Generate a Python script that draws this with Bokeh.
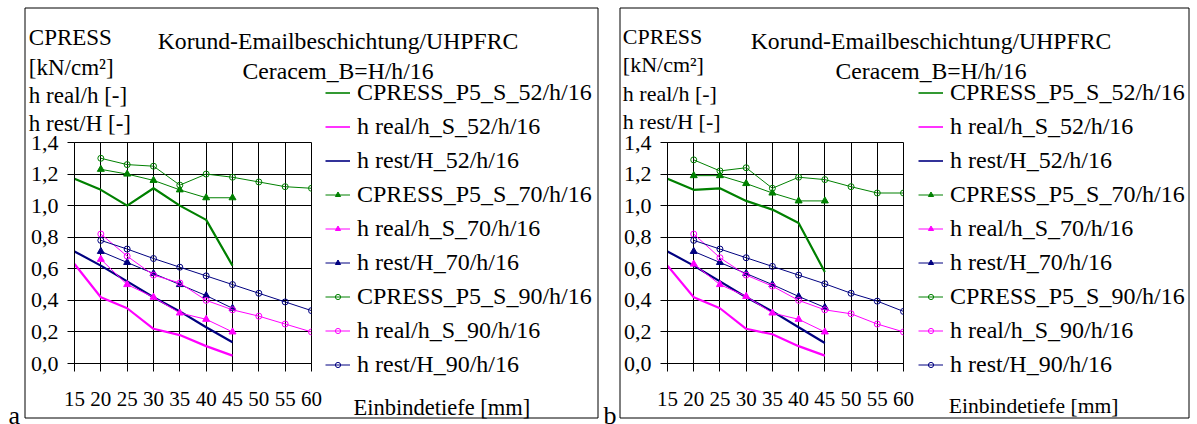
from bokeh.plotting import figure
from bokeh.models import (Range1d, FixedTicker, CustomJSTickFormatter, Label,
                          BoxAnnotation, Legend, LegendItem)
from bokeh.layouts import row, column
from bokeh.embed import file_html
from bokeh.resources import INLINE

# ---------------- data ----------------
depth_52 = [15, 20, 25, 30, 35, 40, 45]
depth_70 = [20, 25, 30, 35, 40, 45]
depth_90 = [20, 25, 30, 35, 40, 45, 50, 55, 60]

x_ticks = [15, 20, 25, 30, 35, 40, 45, 50, 55, 60]
y_ticks = [0.0, 0.2, 0.4, 0.6, 0.8, 1.0, 1.2, 1.4]

labels = ["CPRESS_P5_S_52/h/16", "h real/h_S_52/h/16", "h rest/H_52/h/16",
          "CPRESS_P5_S_70/h/16", "h real/h_S_70/h/16", "h rest/H_70/h/16",
          "CPRESS_P5_S_90/h/16", "h real/h_S_90/h/16", "h rest/H_90/h/16"]

title_1 = "Korund-Emailbeschichtung/UHPFRC"
title_2 = "Ceracem_B=H/h/16"
y_title_lines = ["CPRESS", "[kN/cm²]", "h real/h [-]", "h rest/H [-]"]
x_title = "Einbindetiefe [mm]"

# panel a
a_cpress_52 = [1.17, 1.10, 1.00, 1.11, 1.00, 0.91, 0.62]
a_hreal_52 = [0.63, 0.42, 0.35, 0.22, 0.18, 0.11, 0.05]
a_hrest_52 = [0.71, 0.62, 0.52, 0.42, 0.33, 0.23, 0.135]
a_cpress_70 = [1.23, 1.20, 1.16, 1.10, 1.05, 1.05]
a_hreal_70 = [0.66, 0.50, 0.42, 0.32, 0.28, 0.20]
a_hrest_70 = [0.71, 0.64, 0.57, 0.50, 0.43, 0.35]
a_cpress_90 = [1.30, 1.26, 1.25, 1.13, 1.20, 1.18, 1.15, 1.12, 1.11]
a_hreal_90 = [0.82, 0.68, 0.56, 0.51, 0.40, 0.34, 0.30, 0.25, 0.20]
a_hrest_90 = [0.78, 0.725, 0.665, 0.61, 0.555, 0.50, 0.445, 0.39, 0.335]

# panel b
b_cpress_52 = [1.17, 1.10, 1.11, 1.03, 0.975, 0.89, 0.58]
b_hreal_52 = [0.62, 0.42, 0.35, 0.22, 0.185, 0.11, 0.05]
b_hrest_52 = [0.71, 0.62, 0.52, 0.42, 0.33, 0.23, 0.13]
b_cpress_70 = [1.19, 1.19, 1.14, 1.08, 1.03, 1.03]
b_hreal_70 = [0.63, 0.50, 0.425, 0.32, 0.28, 0.20]
b_hrest_70 = [0.71, 0.64, 0.57, 0.50, 0.425, 0.355]
b_cpress_90 = [1.29, 1.22, 1.24, 1.11, 1.18, 1.165, 1.12, 1.08, 1.08]
b_hreal_90 = [0.82, 0.67, 0.56, 0.49, 0.40, 0.34, 0.315, 0.25, 0.20]
b_hrest_90 = [0.78, 0.725, 0.67, 0.615, 0.56, 0.505, 0.445, 0.395, 0.33]

GREEN = "#008000"
MAGENTA = "#FF00FF"
NAVY = "#000080"
FONT = "Liberation Serif"

H = 424
W_A = 600
W_B = 595

# series styles: (colour, marker or None, line width)
styles = [(GREEN, None, 2.2), (MAGENTA, None, 2.2), (NAVY, None, 2.2),
          (GREEN, "triangle", 1), (MAGENTA, "triangle", 1), (NAVY, "triangle", 1),
          (GREEN, "circle", 1), (MAGENTA, "circle", 1), (NAVY, "circle", 1)]
depths = [depth_52] * 3 + [depth_70] * 3 + [depth_90] * 3


def draw_series(p, xs, ys, col, marker, lw):
    rs = [p.line(xs, ys, line_color=col, line_width=lw)]
    if marker == "triangle":
        rs.append(p.scatter(xs, ys, marker="triangle", size=7, fill_color=col,
                            line_color=col))
    elif marker == "circle":
        rs.append(p.scatter(xs, ys, marker="circle", size=6, fill_color=None,
                            line_color=col, line_width=1))
    return rs


def chart(width, fl, ft, fw, fh, series):
    p = figure(width=width, height=H, output_backend="svg", toolbar_location=None,
               title=None,
               x_range=Range1d(15, 60), y_range=Range1d(0, 1.4),
               min_border_left=fl, min_border_top=ft,
               min_border_right=width - fl - fw, min_border_bottom=H - ft - fh,
               background_fill_color="white", border_fill_color="white",
               outline_line_color="black", outline_line_width=1)
    p.xaxis.ticker = FixedTicker(ticks=x_ticks)
    p.yaxis.ticker = FixedTicker(ticks=y_ticks)
    p.yaxis.formatter = CustomJSTickFormatter(code="return tick.toFixed(1).replace('.', ',');")
    for ax in (p.xaxis[0], p.yaxis[0]):
        ax.major_label_text_font = FONT
        ax.major_label_text_color = "black"
        ax.axis_line_color = "black"
        ax.major_tick_line_color = "black"
        ax.minor_tick_line_color = None
        ax.major_tick_in = 0
    p.xaxis.major_label_text_font_size = "21px"
    p.yaxis.major_label_text_font_size = "22px"
    p.xaxis.major_tick_out = 8
    p.yaxis.major_tick_out = 7
    p.xaxis.major_label_standoff = 20
    p.yaxis.major_label_standoff = 9
    p.xgrid.ticker = FixedTicker(ticks=x_ticks)
    p.ygrid.ticker = FixedTicker(ticks=y_ticks)
    for g in (p.xgrid[0], p.ygrid[0]):
        g.grid_line_color = "black"
        g.grid_line_width = 1
    for xs, ys, (col, marker, lw) in zip(depths, series, styles):
        draw_series(p, xs, ys, col, marker, lw)
    return p


pa = chart(W_A, 74, 139, 237, 224,
           (a_cpress_52, a_hreal_52, a_hrest_52, a_cpress_70, a_hreal_70,
            a_hrest_70, a_cpress_90, a_hreal_90, a_hrest_90))
pb = chart(W_B, 67, 142, 236, 222,
           (b_cpress_52, b_hreal_52, b_hrest_52, b_cpress_70, b_hreal_70,
            b_hrest_70, b_cpress_90, b_hreal_90, b_hrest_90))

# overlay for texts, legends and panel frames (its frame is the whole canvas,
# so nothing placed outside the chart frames is clipped)
W = W_A + W_B
ov = figure(width=W, height=H, output_backend="svg", toolbar_location=None,
            title=None, x_range=Range1d(0, W), y_range=Range1d(0, H),
            x_axis_location=None, y_axis_location=None, min_border=0,
            background_fill_alpha=0, border_fill_alpha=0, outline_line_color=None)
ov.grid.visible = False
ov.margin = (-H, 0, 0, 0)


def lab(text, X, Y, size, align="left"):
    ov.add_layout(Label(x=X, y=H - Y, x_units="screen", y_units="screen",
                        text=text, text_font=FONT, text_font_size=size,
                        text_color="black", text_align=align,
                        text_baseline="alphabetic"))


def box(l, r, t, b):
    ov.add_layout(BoxAnnotation(left=l, right=r, top=H - t, bottom=H - b,
                                left_units="screen", right_units="screen",
                                top_units="screen", bottom_units="screen",
                                fill_alpha=0, line_color="black", line_alpha=1,
                                line_width=1))


NAN = [float("nan")]


def legend(X, Y_top):
    # legend samples share the chart series styles (proxies without visible data)
    items = []
    for lab_txt, (col, marker, lw) in zip(labels, styles):
        rs = draw_series(ov, NAN, NAN, col, marker, 1.6 if marker is None else lw)
        items.append(LegendItem(label=lab_txt, renderers=rs))
    lg = Legend(items=items, location=(X, H - Y_top - 9 * 34),
                label_text_font=FONT, label_text_font_size="24px",
                label_text_color="black",
                glyph_width=25, glyph_height=13, label_height=34, spacing=0,
                padding=0, margin=0, label_standoff=7,
                border_line_alpha=0, background_fill_alpha=0)
    ov.add_layout(lg)


# panel a
lab(title_1, 337.5, 40, "23.7px", "center")
lab(title_2, 337.5, 70, "23.7px", "center")
for txt, yb in zip(y_title_lines, [36.7, 66.5, 95, 123.3]):
    lab(txt, 28.3, yb, "23px")
lab(x_title, 353, 406.7, "22.5px")
lab("a", 8, 415, "26px")
box(24.5, 597.5, 7.5, 417.5)
legend(325, 75.5)

# panel b
lab(title_1, 930.5, 40, "23.7px", "center")
lab(title_2, 930.5, 70, "23.7px", "center")
for txt, yb in zip(y_title_lines, [36, 64.3, 92.7, 120.7]):
    lab(txt, 622.3, yb, "22px")
lab(x_title, 948.3, 405, "21.6px")
lab("b", 603, 415, "26px")
box(619.5, 1188.5, 7.5, 417.5)
legend(918, 75)

layout = column(row(pa, pb), ov)
open("out.html", "w").write(file_html(layout, INLINE))
